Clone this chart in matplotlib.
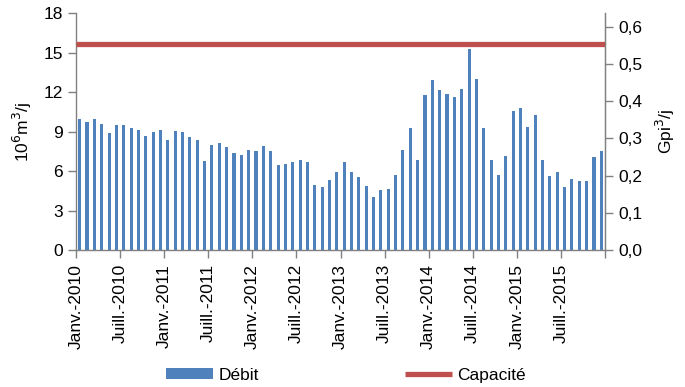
import matplotlib
matplotlib.use("Agg")
import matplotlib.pyplot as plt
from matplotlib.ticker import FuncFormatter
import numpy as np

plt.rcParams['font.family'] = ['Liberation Sans', 'DejaVu Sans']

debit = [10.0, 9.74, 9.95, 9.57, 8.86, 9.49, 9.54, 9.24, 9.09, 8.66, 9.01, 9.11,
         8.40, 9.04, 8.96, 8.60, 8.40, 6.76, 8.00, 8.12, 7.82, 7.39, 7.21, 7.62,
         7.54, 7.92, 7.54, 6.43, 6.53, 6.66, 6.83, 6.71, 4.94, 4.76, 5.32, 5.95,
         6.68, 5.90, 5.57, 4.88, 4.05, 4.56, 4.63, 5.67, 7.62, 9.24, 6.86, 11.80,
         12.96, 12.15, 11.85, 11.67, 12.28, 15.30, 12.98, 9.24, 6.81, 5.69, 7.16, 10.58,
         10.78, 9.32, 10.23, 6.83, 5.62, 5.90, 4.76, 5.39, 5.22, 5.22, 7.09, 7.54]
capacite = 15.7
tick_labels = ['Janv.-2010', 'Juill.-2010', 'Janv.-2011', 'Juill.-2011', 'Janv.-2012',
               'Juill.-2012', 'Janv.-2013', 'Juill.-2013', 'Janv.-2014', 'Juill.-2014',
               'Janv.-2015', 'Juill.-2015']

blue = '#4F81BD'
red = '#C0504D'
grey = '#808080'
fs = 12.5

fig = plt.figure(figsize=(6.85, 3.87), dpi=100)
ax = fig.add_axes([76/685, 1-250/387, (605-76)/685, (250-13.3)/387])

n = len(debit)
x = np.arange(n)
bars = ax.bar(x, debit, width=0.42, color=blue, label='Débit', zorder=2)
line, = ax.plot([-0.5, n-0.5], [capacite, capacite], color=red, lw=3.8, label='Capacité',
                solid_capstyle='butt', zorder=3)

ax.set_xlim(-0.5, n-0.5)
ax.set_ylim(0, 18)
ax.set_yticks(np.arange(0, 19, 3))
ax.set_xticks(np.arange(-0.5, n, 6))
ax.set_xticklabels(tick_labels + [''], rotation=90)

ax.spines['top'].set_visible(False)
for s in ['left', 'bottom', 'right']:
    ax.spines[s].set_color(grey)
    ax.spines[s].set_linewidth(1.0)
ax.tick_params(axis='both', colors=grey, labelcolor='black', labelsize=fs,
               length=6, direction='out', width=1.0)
ax.tick_params(axis='x', pad=4)
ax.set_ylabel('10$^6$m$^3$/j', fontsize=fs, labelpad=7)

ax2 = ax.twinx()
ax2.set_ylim(0, 18/28.317)
ax2.set_yticks(np.arange(0, 0.61, 0.1))
ax2.yaxis.set_major_formatter(FuncFormatter(lambda v, p: f"{v:.1f}".replace('.', ',')))
for s in ['top', 'left', 'bottom']:
    ax2.spines[s].set_visible(False)
ax2.spines['right'].set_color(grey)
ax2.tick_params(axis='y', colors=grey, labelcolor='black', labelsize=fs,
                length=6, direction='out', width=1.0)
ax2.set_ylabel('Gpi$^3$/j', fontsize=fs, labelpad=8)

fig.legend([bars, line], ['Débit', 'Capacité'], loc='lower center',
           bbox_to_anchor=(0.505, -0.03), ncol=2,
           frameon=False, fontsize=fs, handlelength=2.7, handleheight=0.6,
           columnspacing=8.4, handletextpad=0.3)

fig.savefig('out.png', dpi=100)
